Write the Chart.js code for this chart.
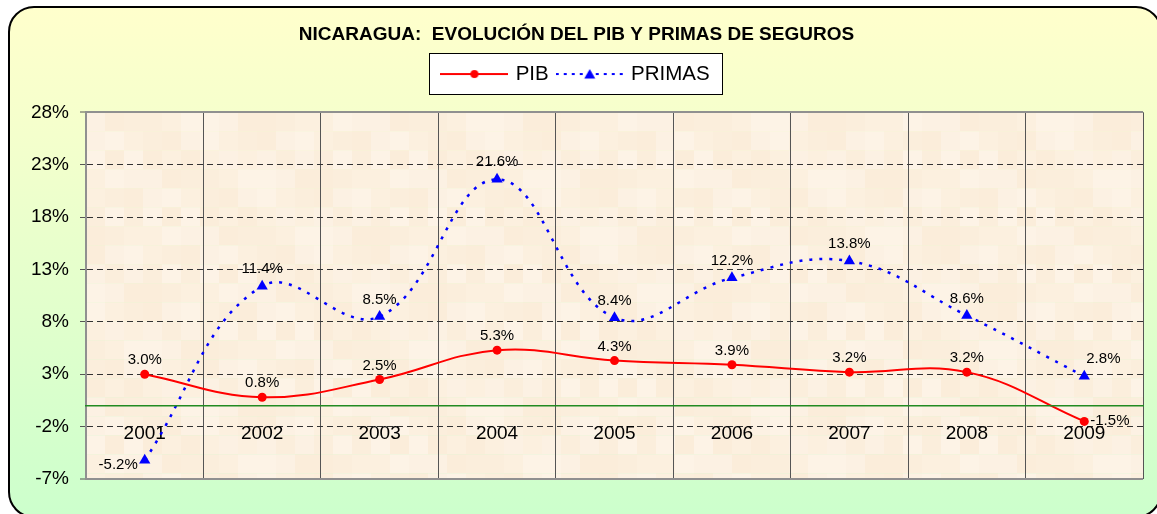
<!DOCTYPE html>
<html>
<head>
<meta charset="utf-8">
<script src="https://cdn.jsdelivr.net/npm/chart.js@4.4.1/dist/chart.umd.min.js"></script>
<style>
  html, body { margin: 0; padding: 0; }
  body { width: 1157px; height: 514px; overflow: hidden; background: #fff; position: relative; }
  #frame {
    position: absolute; left: 8px; top: 6px; width: 1154px; height: 512px;
    box-sizing: border-box; border: 2px solid #000; border-radius: 26px;
    background: linear-gradient(#FFFFCC 0%, #F4FFCC 25%, #CCFFCC 100%);
  }
  #chart { position: absolute; left: 0; top: 0; }
</style>
</head>
<body>
<div id="frame"></div>
<canvas id="chart" width="1157" height="514"></canvas>
<script>
// datos
const years = ['2001', '2002', '2003', '2004', '2005', '2006', '2007', '2008', '2009'];
const pib = [3.0, 0.8, 2.5, 5.3, 4.3, 3.9, 3.2, 3.2, -1.5];
const primas = [-5.2, 11.4, 8.5, 21.6, 8.4, 12.2, 13.8, 8.6, 2.8];
const yTicks = [-7, -2, 3, 8, 13, 18, 23, 28];

const FONT = "'Liberation Sans', Arial, sans-serif";

// iconos de la leyenda (linea + marcador)
function legendIcon(color, dash, shape) {
  const c = document.createElement('canvas');
  c.width = 68; c.height = 14;
  const g = c.getContext('2d');
  g.strokeStyle = color; g.lineWidth = 2; g.setLineDash(dash);
  g.beginPath(); g.moveTo(0, 7); g.lineTo(68, 7); g.stroke();
  g.setLineDash([]); g.fillStyle = color;
  g.beginPath();
  if (shape === 'circle') {
    g.arc(34, 7, 4, 0, Math.PI * 2);
  } else {
    g.moveTo(34, 2); g.lineTo(39.5, 11.5); g.lineTo(28.5, 11.5); g.closePath();
  }
  g.fill();
  return c;
}
const icons = [legendIcon('#FF0000', [], 'circle'), legendIcon('#0000FF', [3, 5], 'triangle')];

// fondo del area de trazado + recuadro de la leyenda
const backdrop = {
  id: 'backdrop',
  beforeDraw(chart) {
    const { ctx, chartArea: a, legend } = chart;
    ctx.save();
    const shades = ['#FCF0DF', '#FBEDDA', '#FDF3E6', '#FBEEDC', '#FCF1E3'];
    const s = 19;
    for (let gx = a.left; gx < a.right; gx += s) {
      for (let gy = a.top; gy < a.bottom; gy += s) {
        const i = Math.floor(gx / s), j = Math.floor(gy / s);
        ctx.fillStyle = shades[(i * 3 + j * 7 + (i * j) % 3) % shades.length];
        ctx.fillRect(gx, gy, Math.min(s, a.right - gx), Math.min(s, a.bottom - gy));
      }
    }
    const hb = legend.legendHitBoxes;
    if (hb && hb.length) {
      const last = hb[hb.length - 1];
      const x1 = Math.round(hb[0].left - 14) + 0.5;
      const x2 = Math.round(last.left + last.width + 12) + 0.5;
      const y1 = Math.round(legend.top) - 0.5;
      const y2 = Math.round(legend.bottom) + 0.5;
      ctx.fillStyle = '#FFFFFF';
      ctx.fillRect(x1, y1, x2 - x1, y2 - y1);
      ctx.strokeStyle = '#000000';
      ctx.lineWidth = 1;
      ctx.strokeRect(x1, y1, x2 - x1, y2 - y1);
    }
    ctx.restore();
  }
};

// etiquetas de valores
const valueLabels = {
  id: 'valueLabels',
  afterDatasetsDraw(chart) {
    const { ctx } = chart;
    ctx.save();
    ctx.font = '15px ' + FONT;
    ctx.fillStyle = '#000';
    ctx.textBaseline = 'middle';
    chart.data.datasets.forEach((ds, di) => {
      const meta = chart.getDatasetMeta(di);
      const n = ds.data.length;
      meta.data.forEach((pt, i) => {
        let dx = 0, dy = di === 0 ? -14 : -17, align = 'center';
        if (di === 0 && i === n - 1) { dx = 6; dy = -1; align = 'left'; }
        if (di === 1 && i === 0) { dx = -7; dy = 5; align = 'right'; }
        if (di === 1 && i === n - 1) { dx = 2; dy = -17; align = 'left'; }
        ctx.textAlign = align;
        ctx.fillText(ds.data[i].toFixed(1) + '%', pt.x + dx, pt.y + dy);
      });
    });
    ctx.restore();
  }
};

const ctx = document.getElementById('chart').getContext('2d');
new Chart(ctx, {
  type: 'line',
  data: {
    labels: years,
    datasets: [{
      label: 'PIB',
      data: pib,
      borderColor: '#FF0000',
      backgroundColor: '#FF0000',
      borderWidth: 2,
      tension: 0.4,
      pointStyle: 'circle',
      pointRadius: 4.5,
      pointBorderWidth: 0,
      fill: false
    }, {
      label: 'PRIMAS',
      data: primas,
      borderColor: '#0000FF',
      backgroundColor: '#0000FF',
      borderWidth: 2.5,
      borderDash: [3, 7],
      tension: 0.4,
      pointStyle: 'triangle',
      pointRadius: 6.5,
      pointBorderWidth: 0,
      fill: false
    }]
  },
  options: {
    responsive: false,
    animation: false,
    devicePixelRatio: 1,
    layout: { padding: { left: 10, right: 14, top: 23, bottom: 35 } },
    scales: {
      x: {
        type: 'category',
        position: { y: 0 },
        offset: true,
        grid: {
          offset: true,
          drawTicks: false,
          color: ctx => (ctx.index === 0 || ctx.index === years.length) ? '#909090' : '#555555',
          lineWidth: ctx => (ctx.index === 0 || ctx.index === years.length) ? 2 : 1
        },
        border: { display: true, color: '#228B22', width: 1.5, z: 1 },
        ticks: { color: '#000', font: { family: FONT, size: 19 }, padding: 17, maxRotation: 0 }
      },
      y: {
        min: -7,
        max: 28,
        afterBuildTicks: s => { s.ticks = yTicks.map(v => ({ value: v })); },
        afterFit: s => { s.width = 76; },
        grid: {
          color: ctx => (ctx.tick && (ctx.tick.value === 28 || ctx.tick.value === -7)) ? '#909090' : '#333333',
          lineWidth: ctx => (ctx.tick && (ctx.tick.value === 28 || ctx.tick.value === -7)) ? 2 : 1,
          tickLength: 6,
          tickColor: '#555555',
          tickWidth: 1
        },
        border: {
          display: true, color: '#909090', width: 2,
          dash: ctx => (ctx.tick && ctx.tick.value !== 28 && ctx.tick.value !== -7) ? [6, 4] : []
        },
        ticks: {
          color: '#000',
          font: { family: FONT, size: 19 },
          padding: 11,
          callback: v => v + '%'
        }
      }
    },
    plugins: {
      title: {
        display: true,
        text: 'NICARAGUA:  EVOLUCIÓN DEL PIB Y PRIMAS DE SEGUROS',
        color: '#000',
        font: { family: FONT, size: 19, weight: 'bold' },
        padding: { top: 0, bottom: 8 }
      },
      subtitle: {
        display: true,
        text: ' ',
        weight: 500,
        font: { size: 10 },
        padding: { top: 0, bottom: 6 }
      },
      legend: {
        display: true,
        position: 'top',
        labels: {
          usePointStyle: true,
          pointStyleWidth: 62,
          padding: 10,
          color: '#000',
          font: { family: FONT, size: 20.5 },
          generateLabels: chart => {
            const items = Chart.defaults.plugins.legend.labels.generateLabels(chart);
            items.forEach((it, i) => { it.pointStyle = icons[i]; });
            return items;
          }
        }
      },
      tooltip: { enabled: false }
    }
  },
  plugins: [backdrop, valueLabels]
});
</script>
</body>
</html>
